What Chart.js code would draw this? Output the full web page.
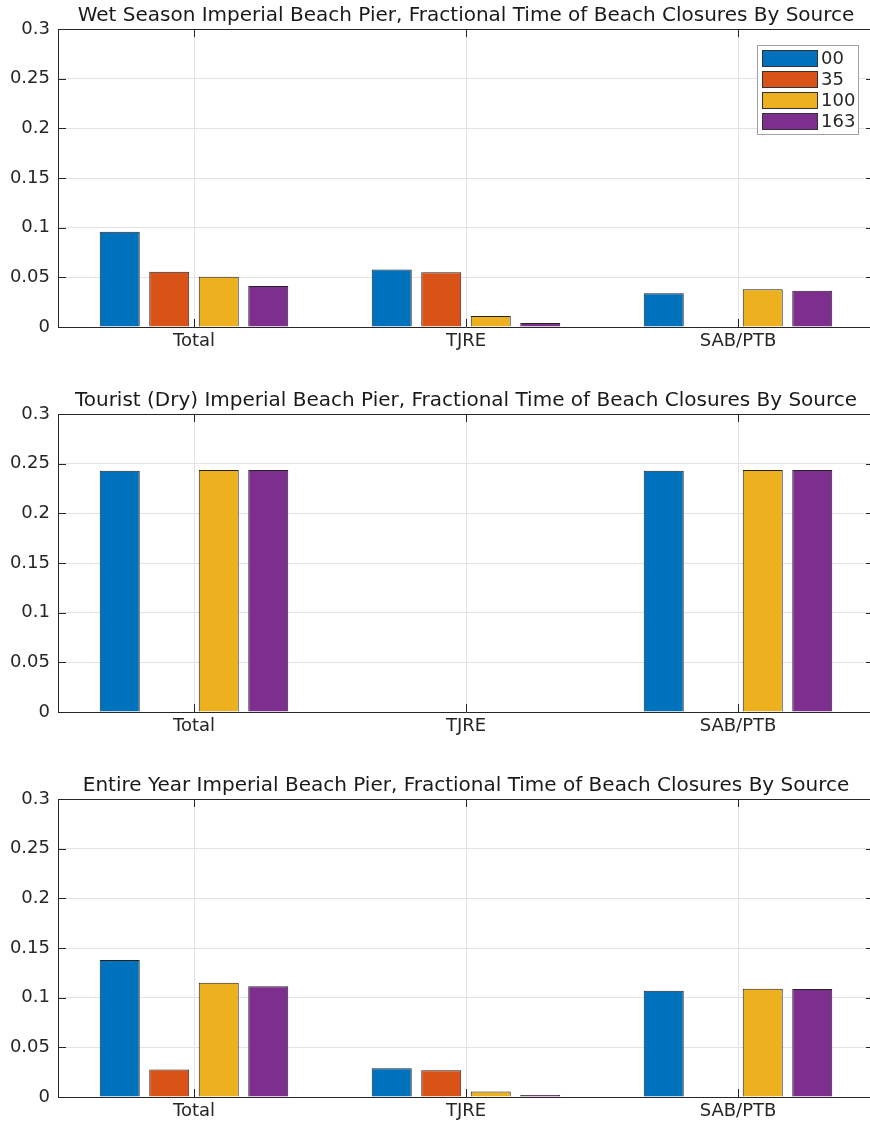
<!DOCTYPE html>
<html>
<head>
<meta charset="utf-8">
<script src="https://cdn.jsdelivr.net/npm/chart.js@4"></script>
<style>
  html, body { margin: 0; padding: 0; background: #fff; }
  #page { position: relative; width: 870px; height: 1127px; overflow: hidden; }
  .panel { position: absolute; left: 0; width: 874px; height: 355px; }
</style>
</head>
<body>
<div id="page">
  <div class="panel" style="top:0px"><canvas id="c0"></canvas></div>
  <div class="panel" style="top:385px"><canvas id="c1"></canvas></div>
  <div class="panel" style="top:770px"><canvas id="c2"></canvas></div>
</div>
<script>
const categories = ["Total", "TJRE", "SAB/PTB"];
const seriesNames = ["00", "35", "100", "163"];
const colors = ["#0072BD", "#D95319", "#EDB120", "#7E2F8E"];
const yTicks = [0, 0.05, 0.1, 0.15, 0.2, 0.25, 0.3];
const yTickLabels = ["0", "0.05", "0.1", "0.15", "0.2", "0.25", "0.3"];

const titles = [
  "Wet Season Imperial Beach Pier, Fractional Time of Beach Closures By Source",
  "Tourist (Dry) Imperial Beach Pier, Fractional Time of Beach Closures By Source",
  "Entire Year Imperial Beach Pier, Fractional Time of Beach Closures By Source"
];

// values per series: [Total, TJRE, SAB/PTB]
const wet00  = [0.096, 0.058, 0.034];
const wet35  = [0.0555, 0.055, 0];
const wet100 = [0.0505, 0.011, 0.038];
const wet163 = [0.0413, 0.004, 0.0366];

const dry00  = [0.2429, 0, 0.2429];
const dry35  = [0, 0, 0];
const dry100 = [0.2436, 0, 0.2436];
const dry163 = [0.2436, 0, 0.2436];

const year00  = [0.138, 0.029, 0.107];
const year35  = [0.0278, 0.027, 0];
const year100 = [0.115, 0.0055, 0.109];
const year163 = [0.1115, 0.002, 0.1088];

const panels = [
  [wet00, wet35, wet100, wet163],
  [dry00, dry35, dry100, dry163],
  [year00, year35, year100, year163]
];

const FONT = "'DejaVu Sans', sans-serif";
const TEXT = "#262626";
const AXIS = "#262626";
const GRID = "#e2e2e2";

// vertical grid lines at the category centres
const vgridPlugin = {
  id: "vgrid",
  beforeDatasetsDraw(chart) {
    const { ctx, chartArea: a, scales } = chart;
    ctx.save();
    ctx.strokeStyle = GRID;
    ctx.lineWidth = 1;
    ctx.beginPath();
    categories.forEach((c, i) => {
      const x = Math.round(scales.x.getPixelForValue(i)) + 0.5;
      ctx.moveTo(x, a.top); ctx.lineTo(x, a.bottom);
    });
    ctx.stroke();
    ctx.restore();
  }
};

// MATLAB-like box: top border and inward ticks on all sides
const boxPlugin = {
  id: "box",
  afterDraw(chart) {
    const { ctx, chartArea: a, scales } = chart;
    const len = 8;
    ctx.save();
    ctx.strokeStyle = AXIS;
    ctx.lineWidth = 1;
    ctx.beginPath();
    ctx.moveTo(a.left, a.top + 0.5);
    ctx.lineTo(a.right, a.top + 0.5);
    yTicks.forEach(v => {
      const y = Math.round(scales.y.getPixelForValue(v)) + 0.5;
      ctx.moveTo(a.left, y); ctx.lineTo(a.left + len, y);
      ctx.moveTo(a.right, y); ctx.lineTo(a.right - len, y);
    });
    categories.forEach((c, i) => {
      const x = Math.round(scales.x.getPixelForValue(i)) + 0.5;
      ctx.moveTo(x, a.bottom); ctx.lineTo(x, a.bottom - len);
      ctx.moveTo(x, a.top); ctx.lineTo(x, a.top + len);
    });
    ctx.stroke();
    ctx.restore();
  }
};

// legend box inside the axes, top right (first panel only)
const legendPlugin = {
  id: "innerLegend",
  afterDraw(chart) {
    const { ctx, chartArea: a } = chart;
    const boxW = 101, boxH = 89;
    const bx = a.right - 16 - boxW, by = a.top + 16;
    ctx.save();
    ctx.fillStyle = "#fff";
    ctx.fillRect(bx, by, boxW, boxH);
    ctx.strokeStyle = "#a0a0a0";
    ctx.lineWidth = 1;
    ctx.strokeRect(bx + 0.5, by + 0.5, boxW, boxH);
    ctx.font = "18px " + FONT;
    ctx.textBaseline = "middle";
    chart.data.datasets.forEach((ds, i) => {
      const cy = by + 13 + i * 21;
      ctx.fillStyle = ds.backgroundColor;
      ctx.fillRect(bx + 5, cy - 8, 55, 16);
      ctx.strokeStyle = "#333";
      ctx.strokeRect(bx + 5.5, cy - 7.5, 55, 16);
      ctx.fillStyle = TEXT;
      ctx.fillText(ds.label, bx + 64, cy + 1);
    });
    ctx.restore();
  }
};

panels.forEach((series, p) => {
  new Chart(document.getElementById("c" + p), {
    type: "bar",
    data: {
      labels: categories,
      datasets: series.map((vals, i) => ({
        label: seriesNames[i],
        data: vals,
        backgroundColor: colors[i],
        borderColor: "#222",
        borderWidth: 1,
        borderSkipped: "start",
        categoryPercentage: 0.728,
        barPercentage: 0.808
      }))
    },
    options: {
      responsive: true,
      maintainAspectRatio: false,
      animation: false,
      layout: { padding: { left: 0, right: 0, top: 0, bottom: 0 } },
      plugins: {
        legend: { display: false },
        tooltip: { enabled: false },
        title: {
          display: true,
          fullSize: false,
          text: titles[p],
          color: "#1a1a1a",
          font: { family: FONT, size: 20, weight: "normal", lineHeight: 1.2 },
          padding: { top: 4, bottom: 1 }
        }
      },
      scales: {
        x: {
          grid: { display: false, drawTicks: false },
          border: { color: AXIS, width: 1 },
          ticks: { color: TEXT, font: { family: FONT, size: 18 }, padding: 4 },
          afterFit(s) { s.height = 28; }
        },
        y: {
          min: 0,
          max: 0.3,
          grid: { color: GRID, drawTicks: false },
          border: { color: AXIS, width: 1 },
          ticks: {
            stepSize: 0.05,
            color: TEXT,
            font: { family: FONT, size: 18 },
            padding: 8,
            callback: (v) => {
              const k = yTicks.findIndex(t => Math.abs(t - v) < 1e-9);
              return k >= 0 ? yTickLabels[k] : "";
            }
          },
          afterFit(s) { s.width = 58; }
        }
      }
    },
    plugins: p === 0 ? [vgridPlugin, boxPlugin, legendPlugin] : [vgridPlugin, boxPlugin]
  });
});
</script>
</body>
</html>
